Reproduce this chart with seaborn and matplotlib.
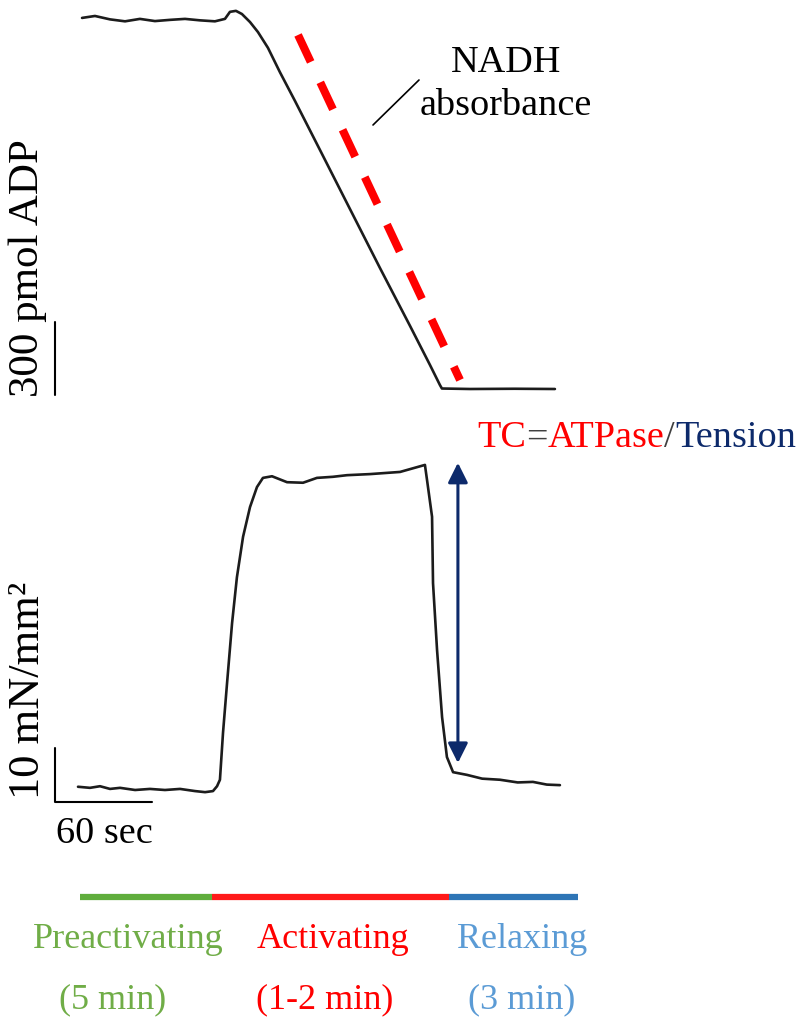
import numpy as np
import pandas as pd
import matplotlib.pyplot as plt
import seaborn as sns

# NADH absorbance trace, expressed as pmol ADP above the final baseline
adp_time = [2.5, 10.5, 19.8, 29.1, 38.3, 47.6, 56.9, 66.2, 75.5, 84.7, 90.9, 94.0, 97.7,
            101.4, 106.4, 111.3, 117.5, 124.9, 134.2, 149.7, 168.2, 186.8, 205.4, 217.7,
            223.9, 225.1, 242.5, 270.0, 295.0]
adp_pmol = [1525, 1533, 1519, 1511, 1521, 1512, 1517, 1521, 1515, 1511, 1521, 1550, 1554,
            1541, 1508, 1467, 1402, 1302, 1184, 982, 740, 497, 259, 99,
            16, 2, 0, 1, 0]

# fitted slope (red dashed)
fit_time = [136.1, 236.3]
fit_pmol = [1455, 37]

# tension trace
ten_time = [0, 7.4, 13.6, 19.8, 26.0, 35.3, 44.5, 53.8, 63.1, 72.4, 78.6, 83.5, 86.0, 87.8,
            89.7, 92.2, 95.3, 98.3, 102.1, 106.4, 110.7, 114.4, 120.0, 129.3, 139.2, 147.8,
            157.7, 166.4, 180.6, 199.2, 214.6, 215.9, 219.0, 219.6, 222.1, 225.2, 228.2,
            232.0, 240.6, 250.0, 261.0, 272.0, 281.4, 290.0, 298.1]
ten_val = [0.6, 0.4, 0.7, 0.2, 0.4, 0.0, 0.2, 0.0, 0.2, -0.2, -0.4, -0.2, 0.7, 1.9,
           10.6, 19.8, 30.9, 39.4, 46.9, 52.4, 56.1, 57.8, 58.1, 57.0, 56.9, 57.8,
           58.0, 58.3, 58.5, 58.9, 60.2, 57.4, 50.6, 38.3, 25.9, 13.5, 6.1,
           3.3, 2.8, 2.1, 1.9, 1.4, 1.5, 1.0, 0.9]

# protocol phases (seconds on the same time axis)
phase_names = ["Preactivating", "Activating", "Relaxing"]
phase_durations = ["(5 min)", "(1-2 min)", "(3 min)"]
phase_edges = [1.2, 82.9, 229.5, 309.3]
phase_bar_colors = ["#5fad3c", "#ff1a1a", "#2e75b6"]
phase_text_colors = ["#70ad47", "#ff0000", "#5b9bd5"]

# scale bars
bar_time = 60
bar_pmol = 300
bar_tension = 10

# arrow marking steady tension
arrow_time = 235.0
arrow_span = [5.0, 60.6]

W, H = 801, 1026
px_per_s = 97 / 60
px_per_pmol = 73 / 300
px_per_mN = 54 / 10
x0_px = 78          # pixel of t = 0
adp_base_px = 389   # pixel of 0 pmol
ten_base_px = 790   # pixel of 0 mN/mm2
split_px = 420

sns.set_theme(style="white")
plt.rcParams["font.family"] = ["Liberation Serif", "DejaVu Serif"]
plt.rcParams["text.color"] = "black"

fig = plt.figure(figsize=(W / 100, H / 100), dpi=100)
ax1 = fig.add_axes([0, 1 - split_px / H, 1, split_px / H])
ax2 = fig.add_axes([0, 0, 1, 1 - split_px / H])
xlim = (-x0_px / px_per_s, (W - x0_px) / px_per_s)
for ax in (ax1, ax2):
    ax.set_xlim(*xlim)
    ax.set_axis_off()
ax1.set_ylim((adp_base_px - split_px) / px_per_pmol, adp_base_px / px_per_pmol)
ax2.set_ylim((ten_base_px - H) / px_per_mN, (ten_base_px - split_px) / px_per_mN)

trace_kw = dict(color="#1c1c1c", linewidth=1.9, legend=False)
sns.lineplot(data=pd.DataFrame({"t": adp_time, "v": adp_pmol}), x="t", y="v",
             ax=ax1, sort=False, **trace_kw)
sns.lineplot(data=pd.DataFrame({"t": ten_time, "v": ten_val}), x="t", y="v",
             ax=ax2, sort=False, **trace_kw)

ax1.plot(fit_time, fit_pmol, color="#ff0000", linewidth=5.8,
         dashes=(3.7, 2.8), solid_capstyle="butt", dash_capstyle="butt")

# scale bars
sb_t = (55 - x0_px) / px_per_s
ax1.plot([sb_t, sb_t], [-25, -25 + bar_pmol], color="black", linewidth=1.5)
sb_f = (ten_base_px - 802) / px_per_mN
ax2.plot([sb_t, sb_t, sb_t + bar_time], [sb_f + bar_tension, sb_f, sb_f],
         color="black", linewidth=1.5)

# NADH pointer
ax1.plot([(373 - x0_px) / px_per_s, (419 - x0_px) / px_per_s],
         [(adp_base_px - 125) / px_per_pmol, (adp_base_px - 80) / px_per_pmol],
         color="black", linewidth=1.2)

# double arrow
ax2.annotate("", xy=(arrow_time, arrow_span[1]), xytext=(arrow_time, arrow_span[0]),
             arrowprops=dict(arrowstyle="<|-|>,head_length=1.0,head_width=0.5",
                             color="#0d2a6b", lw=2.2, shrinkA=0, shrinkB=0))

# phase bars
bar_y = (ten_base_px - 897) / px_per_mN
for i in range(3):
    ax2.plot([phase_edges[i], phase_edges[i + 1]], [bar_y, bar_y],
             color=phase_bar_colors[i], linewidth=4.5, solid_capstyle="butt")


def fpos(x, y):
    return x / W, 1 - y / H


fig.text(*fpos(506, 63), "NADH", ha="center", va="center", fontsize=27.5)
fig.text(*fpos(506, 106), "absorbance", ha="center", va="center", fontsize=27.5)
fig.text(*fpos(28, 268), "300 pmol ADP", ha="center", va="center", rotation=90, fontsize=31)
fig.text(*fpos(28, 690), "10 mN/mm²", ha="center", va="center", rotation=90, fontsize=32)
fig.text(*fpos(104, 834), "60 sec", ha="center", va="center", fontsize=27.5)

# TC = ATPase / Tension in several colours
pieces = [("TC", "#ff0000"), ("=", "#404040"), ("ATPase", "#ff0000"),
          ("/", "#404040"), ("Tension", "#0d2a6b")]
prev = fig.text(*fpos(477, 438), pieces[0][0], color=pieces[0][1],
                ha="left", va="center", fontsize=27.5)
for s, c in pieces[1:]:
    prev = ax2.annotate(s, xy=(1, 0), xycoords=prev, ha="left", va="bottom",
                        color=c, fontsize=27.5)

label_x = [128, 333, 522]
dur_x = [113, 325, 522]
for i in range(3):
    fig.text(*fpos(label_x[i], 940), phase_names[i], ha="center", va="center",
             color=phase_text_colors[i], fontsize=26)
    fig.text(*fpos(dur_x[i], 1000), phase_durations[i], ha="center", va="center",
             color=phase_text_colors[i], fontsize=26)

fig.savefig("out.png", dpi=100)
